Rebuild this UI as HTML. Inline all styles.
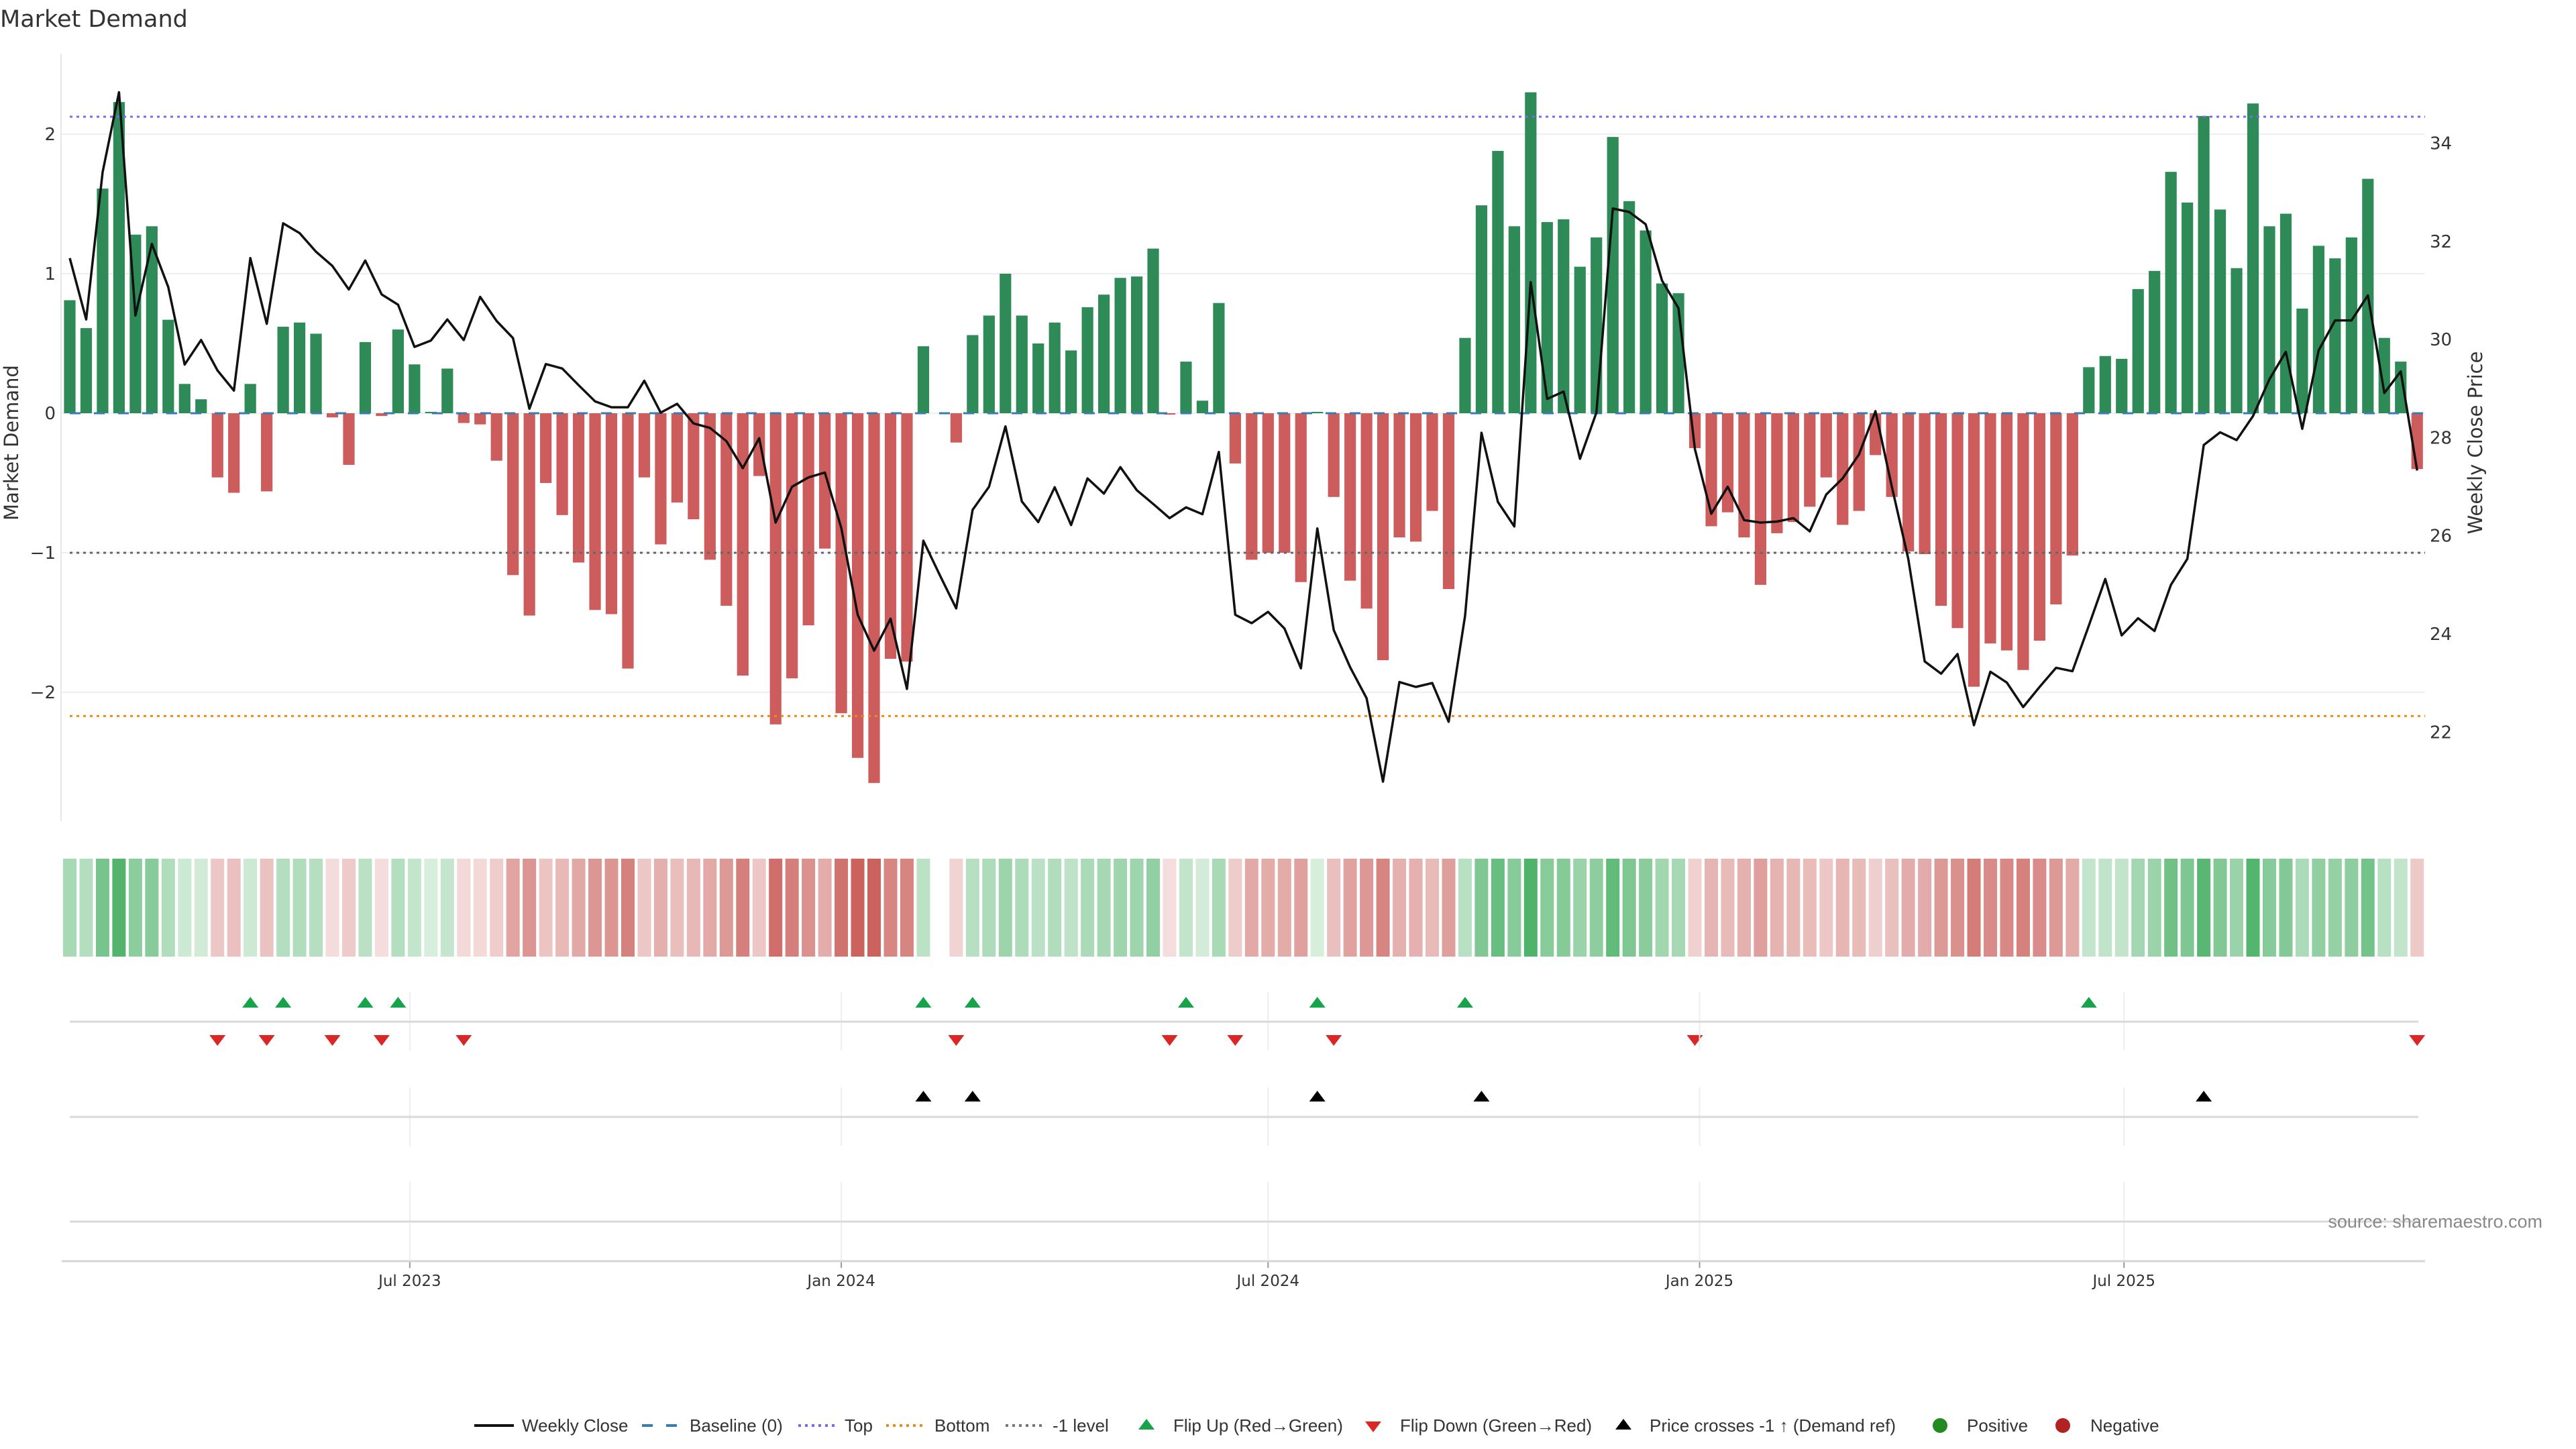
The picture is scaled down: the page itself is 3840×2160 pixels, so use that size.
<!DOCTYPE html>
<html><head><meta charset="utf-8"><title>Market Demand</title>
<style>
html,body{margin:0;padding:0;background:#fff;}
svg{display:block;font-family:"Liberation Sans","DejaVu Sans",sans-serif;}
.dv{font-family:"DejaVu Sans","Liberation Sans",sans-serif;}
</style></head>
<body>
<svg id="chart" width="3840" height="2160" viewBox="0 0 3840 2160" xmlns="http://www.w3.org/2000/svg">
<rect width="3840" height="2160" fill="#fff"/>
<text class="dv" x="0" y="40" font-size="35" fill="#333">Market Demand</text>
<g id="g-main"></g>
<g id="g-heat"></g>
<g id="g-flip"></g>
<g id="g-cross"></g>
<g id="g-axis"></g>
<g id="g-legend"></g>
<text x="3790" y="1830" font-size="27" fill="#888" text-anchor="end">source: sharemaestro.com</text>
</svg>
<script>
const demand = [0.81,0.61,1.61,2.23,1.28,1.34,0.67,0.21,0.10,-0.46,-0.57,0.21,-0.56,0.62,0.65,0.57,-0.03,-0.37,0.51,-0.02,0.60,0.35,0.01,0.32,-0.07,-0.08,-0.34,-1.16,-1.45,-0.50,-0.73,-1.07,-1.41,-1.44,-1.83,-0.46,-0.94,-0.64,-0.76,-1.05,-1.38,-1.88,-0.45,-2.23,-1.90,-1.52,-0.97,-2.15,-2.47,-2.65,-1.76,-1.78,0.48,0,-0.21,0.56,0.70,1.00,0.70,0.50,0.65,0.45,0.76,0.85,0.97,0.98,1.18,-0.01,0.37,0.09,0.79,-0.36,-1.05,-1.00,-1.00,-1.21,0.01,-0.60,-1.20,-1.40,-1.77,-0.89,-0.92,-0.70,-1.26,0.54,1.49,1.88,1.34,2.30,1.37,1.39,1.05,1.26,1.98,1.52,1.31,0.93,0.86,-0.25,-0.81,-0.71,-0.89,-1.23,-0.86,-0.78,-0.67,-0.46,-0.80,-0.70,-0.30,-0.60,-0.99,-1.01,-1.38,-1.54,-1.96,-1.65,-1.70,-1.84,-1.63,-1.37,-1.02,0.33,0.41,0.39,0.89,1.02,1.73,1.51,2.13,1.46,1.04,2.22,1.34,1.43,0.75,1.20,1.11,1.26,1.68,0.54,0.37,-0.40];
const price = [31.66,30.41,33.41,35.04,30.49,31.95,31.07,29.49,29.99,29.37,28.96,31.66,30.32,32.37,32.17,31.79,31.50,31.02,31.61,30.92,30.71,29.85,29.98,30.41,29.99,30.87,30.38,30.03,28.59,29.50,29.41,29.07,28.74,28.62,28.62,29.16,28.51,28.69,28.29,28.20,27.93,27.38,27.99,26.27,27.00,27.19,27.29,26.16,24.39,23.66,24.31,22.88,25.90,25.20,24.52,26.53,27.00,28.23,26.70,26.28,26.99,26.22,27.17,26.86,27.40,26.93,26.65,26.36,26.58,26.44,27.71,24.39,24.22,24.45,24.11,23.30,26.15,24.08,23.32,22.69,20.99,23.02,22.92,23.00,22.21,24.37,28.10,26.69,26.19,31.17,28.79,28.94,27.57,28.51,32.67,32.60,32.35,31.20,30.64,27.77,26.45,27.00,26.32,26.27,26.29,26.36,26.09,26.84,27.17,27.66,28.54,27.00,25.53,23.44,23.19,23.59,22.14,23.23,23.01,22.51,22.92,23.31,23.24,24.17,25.12,23.97,24.32,24.06,25.00,25.53,27.85,28.11,27.95,28.44,29.19,29.75,28.18,29.78,30.39,30.39,30.90,28.91,29.35,27.33];
const crossIdx = [52,55,76,86,130];
const leftTicks = [2,1,0,-1,-2];
const rightTicks = [22,24,26,28,30,32,34];
const dateTickLabels = ["Jul 2023","Jan 2024","Jul 2024","Jan 2025","Jul 2025"];
const dateTickDates = ["2023-07-01","2024-01-01","2024-07-01","2025-01-01","2025-07-01"];
const levelTop = 2.125, levelBottom = -2.17, levelMinus1 = -1;
const startDate = "2023-02-06";

const NS="http://www.w3.org/2000/svg";
function mk(parent,tag,attrs){const e=document.createElementNS(NS,tag);for(const k in attrs)e.setAttribute(k,attrs[k]);parent.appendChild(e);return e;}
const X0=104, DX=24.47;
function x(i){return X0+i*DX;}
function yL(v){return 616 - v*208;}
function yR(p){return 213.6 + (34-p)*73.14;}
function dateIdx(s){return (Date.parse(s)-Date.parse(startDate))/(7*86400000);}
const PL=91, PR=3615;

const gm=document.getElementById('g-main');
leftTicks.forEach(t=>{
  const l=mk(gm,'line',{x1:PL,x2:PR,y1:yL(t),y2:yL(t),stroke:'#eceff2','stroke-width':2});
  
  
  const tx=mk(gm,'text',{x:83,y:yL(t)+9,'font-size':26,fill:'#333','text-anchor':'end','class':'dv'});
  tx.textContent=(t<0?'\u2212'+(-t):String(t));
  
  
});
const sp=mk(gm,'line',{x1:PL,x2:PL,y1:80,y2:1224,stroke:'#e6e6e6','stroke-width':2});


rightTicks.forEach(t=>{
  const tx=mk(gm,'text',{x:3622,y:yR(t)+9,'font-size':26,fill:'#333','class':'dv'});
  tx.textContent=String(t);
  
  
});
let at=mk(gm,'text',{x:0,y:0,'font-size':29,fill:'#333','text-anchor':'middle','class':'dv',transform:'translate(27,660) rotate(-90)'});
at.textContent='Market Demand';


at=mk(gm,'text',{x:0,y:0,'font-size':29,fill:'#333','text-anchor':'middle','class':'dv',transform:'translate(3700,660) rotate(-90)'});
at.textContent='Weekly Close Price';


demand.forEach((v,i)=>{
  if(v===0)return;
  const y0=yL(0), y1=yL(v);
  const r=mk(gm,'rect',{x:x(i)-8.6,width:17.2,y:Math.min(y0,y1),height:Math.abs(y1-y0),fill:v>0?'#2e8b57':'#cd5c5c'});
  
  
});
function hline(v,color,dash,name){
  const l=mk(gm,'line',{x1:104,x2:PR,y1:yL(v),y2:yL(v),stroke:color,'stroke-width':3,'stroke-dasharray':dash});
  
  
}
hline(0,'#3a7bb0','16 20','baseline-line');
hline(levelTop,'#7b68ee','4 6','top-line');
hline(levelBottom,'#ee8a1a','4 6','bottom-line');
hline(levelMinus1,'#666','4 6','minus-one-line');
const pl=mk(gm,'polyline',{points:price.map((p,i)=>x(i)+','+yR(p)).join(' '),fill:'none',stroke:'#111','stroke-width':3.5,'stroke-linejoin':'round'});



const gh=document.getElementById('g-heat');
function mix(base,a){return 'rgb('+base.map(c=>Math.round(255+(c-255)*a)).join(',')+')';}
demand.forEach((v,i)=>{
  if(v===0)return;
  const a=Math.min(0.2+0.7*Math.abs(v)/2.3,0.95);
  const c=v>0?mix([60,170,90],a):mix([200,90,85],a);
  const r=mk(gh,'rect',{x:x(i)-10,width:20,y:1280,height:146,fill:c});
  
  
});

const gf=document.getElementById('g-flip');
const gc=document.getElementById('g-cross');
const ga=document.getElementById('g-axis');
const panels=[[1479,1566],[1621,1708],[1762,1880]];
dateTickDates.forEach((d,k)=>{
  const xx=x(dateIdx(d));
  panels.forEach(p=>{
    const l=mk(ga,'line',{x1:xx,x2:xx,y1:p[0],y2:p[1],stroke:'#eceff2','stroke-width':2});
    
    
  });
  const tk=mk(ga,'line',{x1:xx,x2:xx,y1:1880,y2:1890,stroke:'#999','stroke-width':2});
  
  
  const t=mk(ga,'text',{x:xx,y:1917,'font-size':23,fill:'#333','text-anchor':'middle','class':'dv'});
  t.textContent=dateTickLabels[k];
  
  
});
[[1523,'flip-panel-line'],[1665,'cross-panel-line'],[1821,'empty-panel-line']].forEach(a=>{
  const l=mk(ga,'line',{x1:104,x2:3605,y1:a[0],y2:a[0],stroke:'#d9d9d9','stroke-width':3});
  
  
});
const ax=mk(ga,'line',{x1:92,x2:3615,y1:1880,y2:1880,stroke:'#d6d6d6','stroke-width':3});



function tri(g,cx,cy,up,color,name){
  const h=16,w=12;
  const pts=up?[cx,cy-h/2,cx-w,cy+h/2,cx+w,cy+h/2]:[cx,cy+h/2,cx-w,cy-h/2,cx+w,cy-h/2];
  const p=mk(g,'polygon',{points:pts.join(','),fill:color});
  
  
}
let prevSign=0;
demand.forEach((v,i)=>{
  if(v===0)return;
  const s=v>0?1:-1;
  if(prevSign!==0 && s!==prevSign){
    if(s>0) tri(gf,x(i),1494,true,'#16a34a','flip-up-marker');
    else tri(gf,x(i),1551,false,'#dc2626','flip-down-marker');
  }
  prevSign=s;
});
crossIdx.forEach(i=>tri(gc,x(i),1634,true,'#000','price-cross-marker'));

const gl=document.getElementById('g-legend');
const LY=2125;
function ltext(xx,s){const t=mk(gl,'text',{x:xx,y:LY+9,'font-size':26,fill:'#333'});t.textContent=s;}
function lline(x1,x2,c,dash,w,name){const l=mk(gl,'line',{x1:x1,x2:x2,y1:LY,y2:LY,stroke:c,'stroke-width':w,'stroke-dasharray':dash});}
lline(707,766,'#111','',4,'legend-weekly-close');ltext(778,'Weekly Close');
lline(957,1010,'#3a7bb0','16 20',4,'legend-baseline');ltext(1028,'Baseline (0)');
lline(1190,1245,'#7b68ee','4 6',4,'legend-top');ltext(1259,'Top');
lline(1321,1376,'#ee8a1a','4 6',4,'legend-bottom');ltext(1393,'Bottom');
lline(1499,1554,'#777','4 6',4,'legend-minus-one');ltext(1569,'-1 level');
tri(gl,1709,LY-2,true,'#16a34a','legend-flip-up');ltext(1749,'Flip Up (Red\u2192Green)');
tri(gl,2047,LY+2,false,'#dc2626','legend-flip-down');ltext(2087,'Flip Down (Green\u2192Red)');
tri(gl,2420,LY-2,true,'#000','legend-price-cross');ltext(2459,'Price crosses -1 \u2191 (Demand ref)');
let c=mk(gl,'circle',{cx:2892,cy:LY,r:11,fill:'#228b22'});ltext(2932,'Positive');
c=mk(gl,'circle',{cx:3075,cy:LY,r:11,fill:'#b22222'});ltext(3116,'Negative');
</script>
</body></html>
